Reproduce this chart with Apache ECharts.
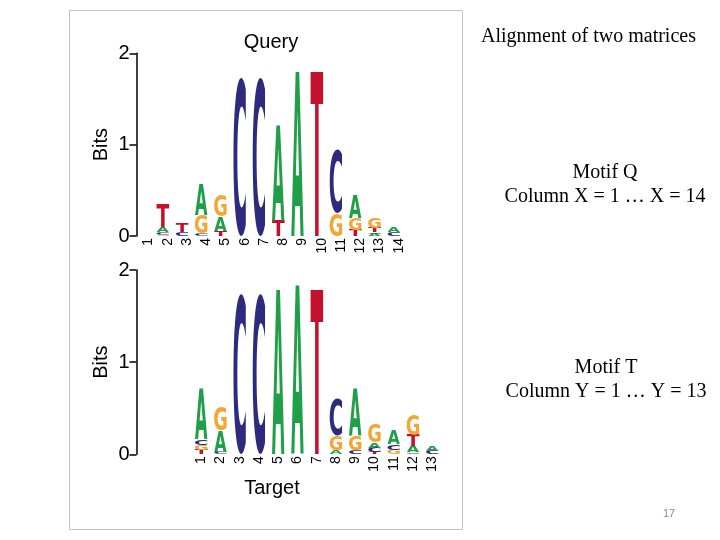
<!DOCTYPE html>
<html><head><meta charset="utf-8">
<script src="https://cdn.jsdelivr.net/npm/echarts@6/dist/echarts.min.js"></script>
<style>html,body{margin:0;padding:0;background:#fff}#chart{width:720px;height:540px}</style>
</head><body><div id="chart"></div>
<script>
// ---- data ----
const queryLabels = ['1','2','3','4','5','6','7','8','9','10','11','12','13','14'];
const targetLabels = ['1','2','3','4','5','6','7','8','9','10','11','12','13'];
const targetShift = 3;          // target column 1 aligned with query column 4
const totalSlots = 16;
const yTicks = [0, 1, 2];

// information content (bits) per letter, per column
const queryA = [0, 0.05, 0, 0.34, 0.15, 0, 0, 1.04, 1.80, 0, 0, 0.255, 0.02, 0.06];
const queryC = [0, 0.035, 0.045, 0.03, 0, 1.74, 1.74, 0, 0, 0, 0.69, 0, 0.02, 0.04];
const queryG = [0, 0.01, 0, 0.20, 0.24, 0, 0, 0, 0, 0, 0.25, 0.13, 0.12, 0];
const queryT = [0, 0.25, 0.10, 0, 0.06, 0, 0, 0.17, 0, 1.80, 0, 0.065, 0.05, 0];

const targetA = [0.55, 0.23, 0, 0, 1.775, 1.82, 0, 0.04, 0.50, 0.06, 0.155, 0.07, 0.06];
const targetC = [0.06, 0.03, 1.74, 1.74, 0, 0, 0, 0.41, 0.04, 0.05, 0.06, 0.02, 0.04];
const targetG = [0.055, 0.26, 0, 0, 0, 0, 0, 0.16, 0.16, 0.20, 0.05, 0.22, 0];
const targetT = [0.05, 0, 0, 0, 0, 0, 1.775, 0, 0, 0.02, 0, 0.12, 0];

// ---- styling ----
const LETTERS = ['A', 'C', 'G', 'T'];
const COLORS = { A: '#1f9f48', C: '#2e2a7e', G: '#f2a735', T: '#c3102d' };
const LETTER_FONT = 'DejaVu Sans';
// DejaVu Sans Bold glyph metrics (em units)
const GLYPH = {
  A: { ink: 0.77, dx: 0.0, top: 0.729, bot: 0.0 },
  C: { ink: 0.62, dx: 0.0, top: 0.744, bot: 0.015 },
  G: { ink: 0.69, dx: 0.0, top: 0.744, bot: 0.015 },
  T: { ink: 0.66, dx: 0.0, top: 0.729, bot: 0.0 }
};
const MID = 0.2598; // canvas 'middle' baseline above alphabetic baseline (em)
const FS = 100;

function buildStack(A, C, G, T, offset) {
  const items = [];
  for (let i = 0; i < A.length; i++) {
    const col = [['A', A[i]], ['C', C[i]], ['G', G[i]], ['T', T[i]]]
      .filter(d => d[1] > 0).sort((a, b) => a[1] - b[1]);
    let y = 0;
    col.forEach(([l, h]) => { items.push([i + offset, y, y + h, LETTERS.indexOf(l)]); y += h; });
  }
  return items;
}

function renderLetter(params, api) {
  const ci = api.value(0), y0 = api.value(1), y1 = api.value(2), li = api.value(3);
  const pb = api.coord([ci, y0]);
  const pt = api.coord([ci, y1]);
  const band = api.size([1, 0])[0];
  const w = band * 0.64;
  const h = pb[1] - pt[1];
  if (h < 0.3) return null;
  const L = LETTERS[li];
  const m = GLYPH[L];
  const sy = h / ((m.top + m.bot) * FS);
  const sx = w / (m.ink * FS);
  return {
    type: 'text',
    x: pb[0] - m.dx * FS * sx,
    y: pb[1] - sy * (MID + m.bot) * FS,
    scaleX: sx, scaleY: sy,
    style: {
      text: L, x: 0, y: 0, fontSize: FS,
      fontFamily: LETTER_FONT, fontWeight: 'bold',
      fill: COLORS[L], align: 'center', verticalAlign: 'middle'
    }
  };
}

const queryCats = Array.from({ length: totalSlots }, (_, i) => queryLabels[i] || '');
const targetCats = Array.from({ length: totalSlots }, (_, i) => targetLabels[i - targetShift] || '');

const fontSans = 'Liberation Sans';
const fontSerif = 'Liberation Serif';

function yAxisCfg(gridIndex) {
  return {
    type: 'value', gridIndex, min: yTicks[0], max: yTicks[yTicks.length - 1], interval: 1,
    offset: -2.6,
    name: 'Bits', nameLocation: 'middle', nameGap: 25,
    nameTextStyle: { fontSize: 20, color: '#000', fontFamily: fontSans },
    axisLine: { show: true, lineStyle: { color: '#000', width: 1.5 } },
    axisTick: { show: true, length: 7, lineStyle: { color: '#000', width: 1.5 } },
    axisLabel: { fontSize: 20, color: '#000', fontFamily: fontSans, margin: 7 },
    splitLine: { show: false }
  };
}

const chart = echarts.init(document.getElementById('chart'), null, { renderer: 'canvas' });
chart.setOption({
  animation: false,
  backgroundColor: '#fff',
  title: [
    { text: 'Query', left: 266, top: 27, textAlign: 'center',
      textStyle: { fontSize: 20, fontWeight: 'normal', color: '#000', fontFamily: fontSans } },
    { text: 'Target', left: 267, top: 473, textAlign: 'center',
      textStyle: { fontSize: 20, fontWeight: 'normal', color: '#000', fontFamily: fontSans } }
  ],
  grid: [
    { left: 133.9, top: 53.3, width: 308, height: 182.7 },
    { left: 133.9, top: 270, width: 308, height: 184.3 }
  ],
  xAxis: [
    { type: 'category', gridIndex: 0, data: queryCats,
      axisLine: { show: false }, axisTick: { show: false }, splitLine: { show: false },
      axisLabel: { interval: 0, rotate: 90, fontSize: 14, margin: 2, color: '#000', fontFamily: fontSans,
        verticalAlign: 'top', lineHeight: 10 } },
    { type: 'category', gridIndex: 1, data: targetCats,
      axisLine: { show: false }, axisTick: { show: false }, splitLine: { show: false },
      axisLabel: { interval: 0, rotate: 90, fontSize: 14, margin: 2, color: '#000', fontFamily: fontSans } }
  ],
  yAxis: [yAxisCfg(0), yAxisCfg(1)],
  series: [
    { type: 'custom', name: 'Query', xAxisIndex: 0, yAxisIndex: 0, silent: true,
      renderItem: renderLetter, encode: { x: 0, y: [1, 2] },
      data: buildStack(queryA, queryC, queryG, queryT, 0) },
    { type: 'custom', name: 'Target', xAxisIndex: 1, yAxisIndex: 1, silent: true,
      renderItem: renderLetter, encode: { x: 0, y: [1, 2] },
      data: buildStack(targetA, targetC, targetG, targetT, targetShift) }
  ],
  graphic: [
    { type: 'rect', shape: { x: 69.5, y: 10.5, width: 393, height: 519 },
      style: { fill: 'none', stroke: '#c4c4c4', lineWidth: 1 }, silent: true },
    { type: 'text', x: 481, y: 36.5, style: { text: 'Alignment of two matrices', fontSize: 20,
      fontFamily: fontSerif, fill: '#000', align: 'left', verticalAlign: 'middle' } },
    { type: 'text', x: 605, y: 173, style: { text: 'Motif Q', fontSize: 20,
      fontFamily: fontSerif, fill: '#000', align: 'center', verticalAlign: 'middle' } },
    { type: 'text', x: 605, y: 196.4, style: { text: 'Column X = 1 … X = 14', fontSize: 20,
      fontFamily: fontSerif, fill: '#000', align: 'center', verticalAlign: 'middle' } },
    { type: 'text', x: 606, y: 368, style: { text: 'Motif T', fontSize: 20,
      fontFamily: fontSerif, fill: '#000', align: 'center', verticalAlign: 'middle' } },
    { type: 'text', x: 606, y: 391.4, style: { text: 'Column Y = 1 … Y = 13', fontSize: 20,
      fontFamily: fontSerif, fill: '#000', align: 'center', verticalAlign: 'middle' } },
    { type: 'text', x: 669, y: 514, style: { text: '17', fontSize: 11,
      fontFamily: fontSans, fill: '#8a8a8a', align: 'center', verticalAlign: 'middle' } }
  ]
});
</script>
</body></html>
